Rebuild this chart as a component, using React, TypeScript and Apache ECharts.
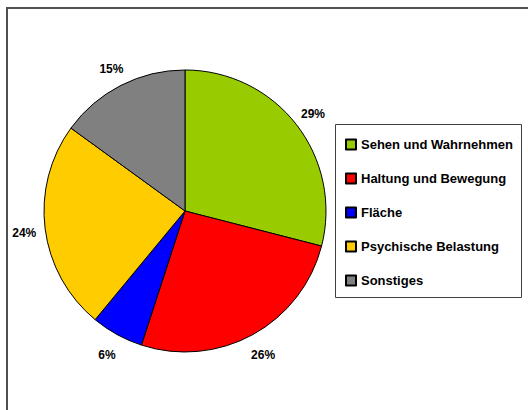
import React, { useEffect, useRef } from "react";
import * as echarts from "echarts";

const categories = [
  "Sehen und Wahrnehmen",
  "Haltung und Bewegung",
  "Fläche",
  "Psychische Belastung",
  "Sonstiges",
];
const values = [29, 26, 6, 24, 15];
const colors = ["#99CC00", "#FF0000", "#0000FF", "#FFCC00", "#808080"];

const FONT = "'Liberation Sans', Arial, Helvetica, sans-serif";

export default function App() {
  const ref = useRef<HTMLDivElement>(null);
  useEffect(() => {
    if (!ref.current) return;
    const chart = echarts.init(ref.current, undefined, { renderer: "svg" });
    chart.setOption({
      animation: false,
      backgroundColor: "#ffffff",
      graphic: [
        {
          type: "polyline",
          shape: { points: [[7, 430], [7, 8], [540, 8]] },
          style: { stroke: "#505050", lineWidth: 2, fill: "none" },
          silent: true,
        },
        {
          type: "rect",
          shape: { x: 335.5, y: 124.5, width: 186, height: 173 },
          style: { stroke: "#404040", lineWidth: 1, fill: "none" },
          silent: true,
        },
      ],
      legend: {
        orient: "vertical",
        left: 345,
        top: 138,
        padding: 0,
        itemWidth: 10,
        itemHeight: 10,
        itemGap: 21,
        icon: "rect",
        selectedMode: false,
        data: categories,
        textStyle: {
          fontFamily: FONT,
          fontWeight: "bold",
          fontSize: 13,
          color: "#000",
        },
      },
      series: [
        {
          type: "pie",
          center: [185, 211],
          radius: 141,
          startAngle: 90,
          clockwise: true,
          avoidLabelOverlap: false,
          silent: true,
          itemStyle: { borderColor: "#000", borderWidth: 1 },
          label: {
            show: true,
            position: "outside",
            formatter: "{c}%",
            fontFamily: FONT,
            fontWeight: "bold",
            fontSize: 12,
            color: "#000",
          },
          labelLine: {
            show: true,
            length: 21,
            length2: 0,
            lineStyle: { opacity: 0, width: 0 },
          },
          labelLayout: (params: any) => {
            const pts = params.labelLinePoints;
            if (!pts) return {};
            return {
              x: pts[1][0],
              y: pts[1][1] + 2,
              align: "center",
              verticalAlign: "middle",
            };
          },
          data: categories.map((name, i) => ({
            name,
            value: values[i],
            itemStyle: { color: colors[i] },
          })),
        },
      ],
    });
    return () => chart.dispose();
  }, []);
  return (
    <div
      ref={ref}
      style={{ position: "fixed", left: 0, top: 0, width: 528, height: 410 }}
    />
  );
}
